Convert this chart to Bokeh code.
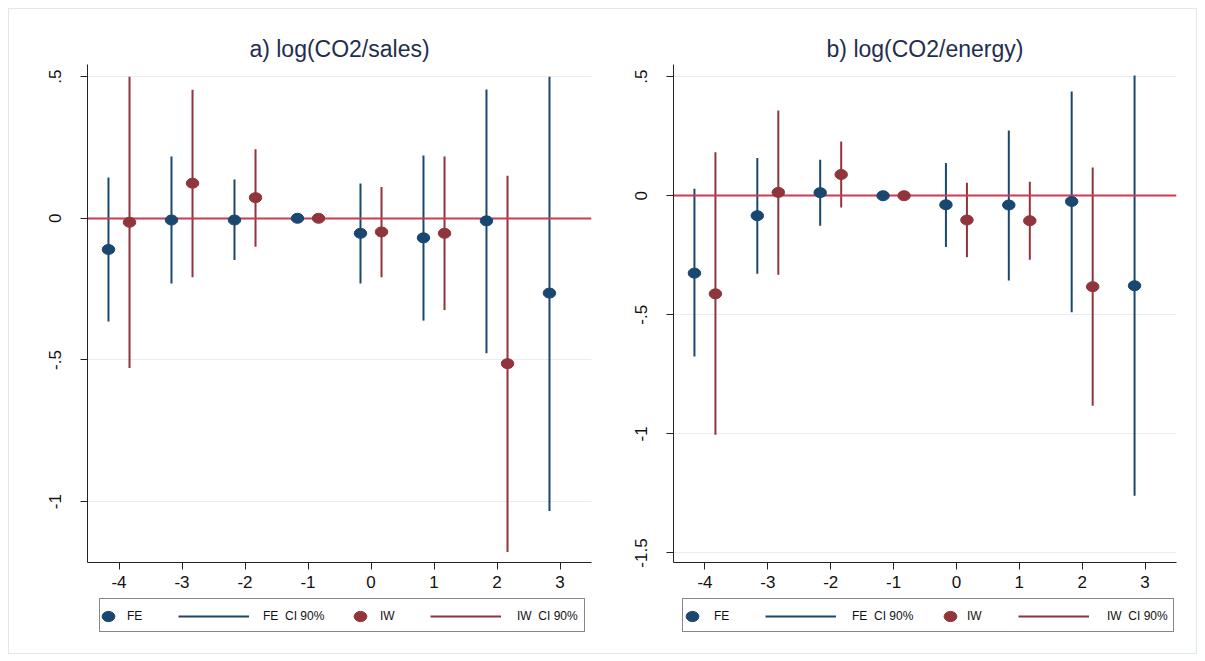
from bokeh.plotting import figure
from bokeh.models import Range1d, FixedTicker, Legend, LegendItem, ColumnDataSource
from bokeh.transform import dodge
from bokeh.layouts import row, column
from bokeh.embed import file_html
from bokeh.resources import INLINE

# ---------------- data ----------------
periods = [-4, -3, -2, -1, 0, 1, 2, 3]
iw_periods = [-4, -3, -2, -1, 0, 1, 2]

# a) log(CO2/sales)
a_fe = [-0.110, -0.006, -0.006, 0.0, -0.053, -0.069, -0.009, -0.264]
a_fe_lo = [-0.364, -0.230, -0.147, 0.0, -0.230, -0.361, -0.476, -1.033]
a_fe_hi = [0.144, 0.218, 0.137, 0.0, 0.123, 0.222, 0.455, 0.500]
a_iw = [-0.014, 0.124, 0.073, 0.0, -0.048, -0.053, -0.513]
a_iw_lo = [-0.528, -0.208, -0.100, 0.0, -0.208, -0.324, -1.178]
a_iw_hi = [0.500, 0.454, 0.244, 0.0, 0.111, 0.218, 0.150]

# b) log(CO2/energy)
b_fe = [-0.325, -0.084, 0.013, 0.0, -0.038, -0.039, -0.024, -0.378]
b_fe_lo = [-0.675, -0.328, -0.126, 0.0, -0.215, -0.356, -0.489, -1.260]
b_fe_hi = [0.029, 0.158, 0.151, 0.0, 0.137, 0.274, 0.438, 0.505]
b_iw = [-0.412, 0.014, 0.089, 0.0, -0.102, -0.105, -0.382]
b_iw_lo = [-1.004, -0.332, -0.049, 0.0, -0.258, -0.269, -0.882]
b_iw_hi = [0.183, 0.358, 0.228, 0.0, 0.055, 0.059, 0.118]

x_ticks = [-4, -3, -2, -1, 0, 1, 2, 3]
x_tick_labels = {-4: "-4", -3: "-3", -2: "-2", -1: "-1", 0: "0", 1: "1", 2: "2", 3: "3"}
a_yticks = [0.5, 0.0, -0.5, -1.0]
b_yticks = [0.5, 0.0, -0.5, -1.0, -1.5]
ytick_labels = {0.5: ".5", 0.0: "0", -0.5: "-.5", -1.0: "-1", -1.5: "-1.5"}

labels = ["FE", "FE  CI 90%", "IW", "IW  CI 90%"]

FE_C = "#1a476f"
IW_C = "#90353b"
ZERO_C = "#cc3a55"
GRID_C = "#e6eef0"
FONT = "Liberation Sans"
OFF = 0.167
NAN = float("nan")


def panel(title, fe, fe_lo, fe_hi, iw, iw_lo, iw_hi, yr, yticks, width, left, right):
    p = figure(width=width, height=588, output_backend="svg", toolbar_location=None,
               x_range=Range1d(-4.5, 3.5), y_range=Range1d(*yr),
               min_border_left=left, min_border_right=right,
               min_border_top=55, min_border_bottom=35)
    p.outline_line_color = None
    p.background_fill_color = "white"
    p.border_fill_color = "white"

    p.title.text = title
    p.title.align = "center"
    p.title.text_font = FONT
    p.title.text_font_size = "23px"
    p.title.text_font_style = "normal"
    p.title.text_color = "#1f2e4f"
    p.title.standoff = 5

    p.xgrid.visible = False
    p.ygrid.grid_line_color = GRID_C
    p.ygrid.grid_line_width = 1

    for ax in (p.xaxis[0], p.yaxis[0]):
        ax.axis_line_color = "#222222"
        ax.major_tick_line_color = "#222222"
        ax.major_tick_out = 7
        ax.major_tick_in = 0
        ax.minor_tick_line_color = None
        ax.major_label_text_font = FONT
        ax.major_label_text_font_size = "17px"
        ax.major_label_text_color = "#111111"
    p.xaxis.ticker = FixedTicker(ticks=x_ticks)
    p.xaxis.major_label_overrides = x_tick_labels
    p.xaxis.major_label_standoff = 6
    p.yaxis.ticker = FixedTicker(ticks=yticks)
    p.yaxis.major_label_overrides = {k: v for k, v in ytick_labels.items() if k in yticks}
    p.yaxis.major_label_orientation = "vertical"
    p.yaxis.major_label_standoff = 19

    s_fe = ColumnDataSource(dict(period=periods, est=fe, lo=fe_lo, hi=fe_hi))
    s_iw = ColumnDataSource(dict(period=iw_periods, est=iw, lo=iw_lo, hi=iw_hi))
    xf = dodge("period", -OFF)
    xi = dodge("period", OFF)

    p.segment(x0=xf, y0="lo", x1=xf, y1="hi", source=s_fe, line_color=FE_C, line_width=2)
    p.segment(x0=xi, y0="lo", x1=xi, y1="hi", source=s_iw, line_color=IW_C, line_width=2)
    p.hspan(y=[0], line_color=ZERO_C, line_width=1.8)
    p.ellipse(x=xf, y="est", width=12.5, height=10, width_units="screen", height_units="screen",
              source=s_fe, fill_color=FE_C, line_color=FE_C)
    p.ellipse(x=xi, y="est", width=12.5, height=10, width_units="screen", height_units="screen",
              source=s_iw, fill_color=IW_C, line_color=IW_C)
    return p


def legend_fig(width, left, right, box_x, box_w, pos):
    lf = figure(width=width, height=56, output_backend="svg", toolbar_location=None,
                x_range=Range1d(0, 1), y_range=Range1d(0, 1),
                x_axis_type=None, y_axis_type=None,
                min_border_left=left, min_border_right=right,
                min_border_top=0, min_border_bottom=0)
    lf.outline_line_color = None
    lf.border_fill_color = "white"
    src = ColumnDataSource(dict(x=[NAN], y=[NAN]))
    r_fe = lf.ellipse(x="x", y="y", width=12.5, height=10, width_units="screen", height_units="screen",
                      source=src, fill_color=FE_C, line_color=FE_C)
    r_fe_ci = lf.segment(x0="x", y0="y", x1="x", y1="y", source=src, line_color=FE_C, line_width=2)
    r_iw = lf.ellipse(x="x", y="y", width=12.5, height=10, width_units="screen", height_units="screen",
                      source=src, fill_color=IW_C, line_color=IW_C)
    r_iw_ci = lf.segment(x0="x", y0="y", x1="x", y1="y", source=src, line_color=IW_C, line_width=2)
    dummy = lf.line(x="x", y="y", source=src, line_alpha=0)

    bottom = 21  # legend location = bottom-left corner, pixels from frame bottom-left
    box = Legend(items=[LegendItem(label=" ", renderers=[dummy])], location=(box_x, bottom),
                 orientation="horizontal", glyph_width=1, glyph_height=16, label_height=16,
                 label_width=box_w - 17, label_standoff=0, padding=8, margin=0, spacing=0,
                 border_line_color="#111111", border_line_width=1,
                 background_fill_color="white", background_fill_alpha=1,
                 label_text_font_size="12px")
    lf.add_layout(box)
    rends = [r_fe, r_fe_ci, r_iw, r_iw_ci]
    gws = [16, 71, 16, 71]
    for lab, r, gw, (gx, so) in zip(labels, rends, gws, pos):
        lg = Legend(items=[LegendItem(label=lab, renderers=[r])], location=(gx, bottom + 8),
                    orientation="horizontal", glyph_width=gw, glyph_height=16, label_height=16,
                    label_standoff=so, padding=0, margin=0, spacing=0,
                    border_line_color=None, background_fill_alpha=0,
                    label_text_font=FONT, label_text_font_size="12px",
                    label_text_color="#111111")
        lf.add_layout(lg)
    return lf


p1 = panel("a) log(CO2/sales)", a_fe, a_fe_lo, a_fe_hi, a_iw, a_iw_lo, a_iw_hi,
           (-1.215, 0.543), a_yticks, 594, 78, 12)
l1 = legend_fig(594, 78, 12, 12, 484, [(13, 11), (91, 14), (265, 12), (343, 16)])
p2 = panel("b) log(CO2/energy)", b_fe, b_fe_lo, b_fe_hi, b_iw, b_iw_lo, b_iw_hi,
           (-1.54, 0.551), b_yticks, 593, 70, 20)
l2 = legend_fig(593, 70, 20, 9, 490, [(11, 14), (92, 16), (269, 9), (345, 18)])

layout = row(column(p1, l1, spacing=0), column(p2, l2, spacing=0), spacing=0,
             styles={"border": "1px solid #dfe8ea", "margin": "8px 0 0 8px"})
open("out.html", "w").write(file_html(layout, INLINE))
